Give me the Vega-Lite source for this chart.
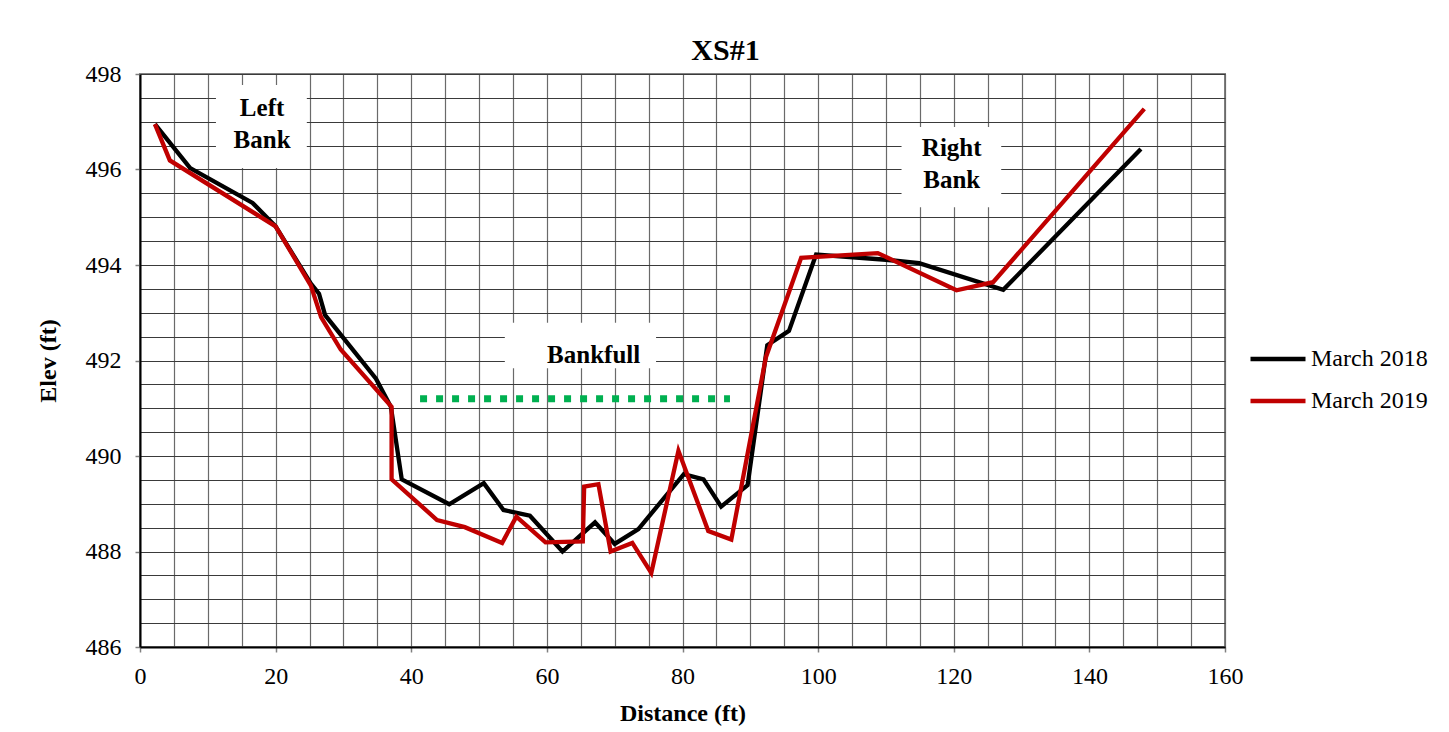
{
  "$schema": "https://vega.github.io/schema/vega-lite/v6.json",
  "width": 1085,
  "height": 573,
  "autosize": {"type": "none"},
  "padding": {"left": 140, "top": 74, "right": 224, "bottom": 85},
  "background": "white",
  "title": {"text": "XS#1", "font": "Liberation Serif", "fontSize": 30, "fontWeight": "bold", "color": "black", "frame": "group", "anchor": "middle", "dx": 43, "offset": -4},
  "config": {"view": {"stroke": "#808080", "strokeWidth": 2}, "font": "Liberation Serif"},
  "datasets": {
    "boxes": [
      {"x1": 11.2, "x2": 24.6, "y1": 496.03, "y2": 497.77},
      {"x1": 112.3, "x2": 127.0, "y1": 495.21, "y2": 496.89},
      {"x1": 53.8, "x2": 76.1, "y1": 491.84, "y2": 492.79}
    ],
    "bankfull": [
      {"x": 41.3, "y": 491.2},
      {"x": 87.0, "y": 491.2}
    ],
    "notes": [
      {"label": "Left", "x": 18.0, "y": 497.29},
      {"label": "Bank", "x": 18.0, "y": 496.62},
      {"label": "Right", "x": 119.7, "y": 496.45},
      {"label": "Bank", "x": 119.7, "y": 495.78},
      {"label": "Bankfull", "x": 66.9, "y": 492.12}
    ],
    "elev": [
      {"series": "March 2018", "i": 1, "x": 2.2, "y": 496.95},
      {"series": "March 2018", "i": 2, "x": 7.4, "y": 496.03},
      {"series": "March 2018", "i": 3, "x": 16.6, "y": 495.30},
      {"series": "March 2018", "i": 4, "x": 20.0, "y": 494.81},
      {"series": "March 2018", "i": 5, "x": 25.2, "y": 493.61},
      {"series": "March 2018", "i": 6, "x": 26.4, "y": 493.40},
      {"series": "March 2018", "i": 7, "x": 27.3, "y": 492.95},
      {"series": "March 2018", "i": 8, "x": 34.8, "y": 491.62},
      {"series": "March 2018", "i": 9, "x": 37.0, "y": 491.03},
      {"series": "March 2018", "i": 10, "x": 38.6, "y": 489.51},
      {"series": "March 2018", "i": 11, "x": 45.6, "y": 488.99},
      {"series": "March 2018", "i": 12, "x": 50.7, "y": 489.43},
      {"series": "March 2018", "i": 13, "x": 53.6, "y": 488.87},
      {"series": "March 2018", "i": 14, "x": 57.5, "y": 488.75},
      {"series": "March 2018", "i": 15, "x": 62.3, "y": 488.00},
      {"series": "March 2018", "i": 16, "x": 67.1, "y": 488.61},
      {"series": "March 2018", "i": 17, "x": 70.0, "y": 488.16},
      {"series": "March 2018", "i": 18, "x": 73.5, "y": 488.47},
      {"series": "March 2018", "i": 19, "x": 80.2, "y": 489.62},
      {"series": "March 2018", "i": 20, "x": 83.1, "y": 489.51},
      {"series": "March 2018", "i": 21, "x": 85.7, "y": 488.94},
      {"series": "March 2018", "i": 22, "x": 89.6, "y": 489.39},
      {"series": "March 2018", "i": 23, "x": 92.5, "y": 492.32},
      {"series": "March 2018", "i": 24, "x": 95.7, "y": 492.62},
      {"series": "March 2018", "i": 25, "x": 99.7, "y": 494.22},
      {"series": "March 2018", "i": 26, "x": 110.0, "y": 494.11},
      {"series": "March 2018", "i": 27, "x": 114.9, "y": 494.04},
      {"series": "March 2018", "i": 28, "x": 127.3, "y": 493.48},
      {"series": "March 2018", "i": 29, "x": 147.6, "y": 496.43},
      {"series": "March 2019", "i": 1, "x": 2.2, "y": 496.95},
      {"series": "March 2019", "i": 2, "x": 4.4, "y": 496.19},
      {"series": "March 2019", "i": 3, "x": 20.0, "y": 494.81},
      {"series": "March 2019", "i": 4, "x": 25.2, "y": 493.57},
      {"series": "March 2019", "i": 5, "x": 26.7, "y": 492.91},
      {"series": "March 2019", "i": 6, "x": 29.6, "y": 492.23},
      {"series": "March 2019", "i": 7, "x": 37.1, "y": 491.03},
      {"series": "March 2019", "i": 8, "x": 37.1, "y": 489.51},
      {"series": "March 2019", "i": 9, "x": 43.8, "y": 488.66},
      {"series": "March 2019", "i": 10, "x": 47.9, "y": 488.51},
      {"series": "March 2019", "i": 11, "x": 53.4, "y": 488.18},
      {"series": "March 2019", "i": 12, "x": 55.5, "y": 488.73},
      {"series": "March 2019", "i": 13, "x": 59.8, "y": 488.19},
      {"series": "March 2019", "i": 14, "x": 65.3, "y": 488.21},
      {"series": "March 2019", "i": 15, "x": 65.5, "y": 489.36},
      {"series": "March 2019", "i": 16, "x": 67.6, "y": 489.41},
      {"series": "March 2019", "i": 17, "x": 69.4, "y": 488.00},
      {"series": "March 2019", "i": 18, "x": 72.6, "y": 488.18},
      {"series": "March 2019", "i": 19, "x": 75.4, "y": 487.55},
      {"series": "March 2019", "i": 20, "x": 79.4, "y": 490.11},
      {"series": "March 2019", "i": 21, "x": 83.8, "y": 488.43},
      {"series": "March 2019", "i": 22, "x": 87.2, "y": 488.25},
      {"series": "March 2019", "i": 23, "x": 92.3, "y": 492.07},
      {"series": "March 2019", "i": 24, "x": 97.5, "y": 494.15},
      {"series": "March 2019", "i": 25, "x": 108.8, "y": 494.25},
      {"series": "March 2019", "i": 26, "x": 120.4, "y": 493.47},
      {"series": "March 2019", "i": 27, "x": 125.8, "y": 493.64},
      {"series": "March 2019", "i": 28, "x": 148.1, "y": 497.27}
    ]
  },
  "layer": [
    {
      "data": {"name": "boxes"},
      "mark": {"type": "rect", "fill": "white", "strokeWidth": 0},
      "encoding": {
        "x": {"field": "x1", "type": "quantitative",
          "scale": {"domain": [0, 160], "nice": false, "zero": false},
          "axis": {"orient": "bottom", "values": [0,5,10,15,20,25,30,35,40,45,50,55,60,65,70,75,80,85,90,95,100,105,110,115,120,125,130,135,140,145,150,155,160],
            "grid": true, "gridColor": "#6a6a6a", "gridWidth": 1.2, "labels": false, "ticks": false, "domain": false, "title": null}},
        "x2": {"field": "x2"},
        "y": {"field": "y1", "type": "quantitative",
          "scale": {"domain": [486, 498], "nice": false, "zero": false},
          "axis": {"orient": "left", "values": [486,486.5,487,487.5,488,488.5,489,489.5,490,490.5,491,491.5,492,492.5,493,493.5,494,494.5,495,495.5,496,496.5,497,497.5,498],
            "grid": true, "gridColor": "#3a3a3a", "gridWidth": 1.2, "labels": false, "ticks": false, "domain": false, "title": null}},
        "y2": {"field": "y2"}
      }
    },
    {
      "data": {"name": "bankfull"},
      "mark": {"type": "line", "color": "#00B050", "strokeWidth": 7, "strokeDash": [7, 9], "strokeCap": "butt"},
      "encoding": {
        "x": {"field": "x", "type": "quantitative", "axis": null},
        "y": {"field": "y", "type": "quantitative", "axis": null}
      }
    },
    {
      "data": {"name": "elev"},
      "mark": {"type": "line", "strokeWidth": 4.3, "strokeJoin": "miter"},
      "encoding": {
        "x": {"field": "x", "type": "quantitative",
          "axis": {"orient": "bottom", "values": [0,20,40,60,80,100,120,140,160], "grid": false,
            "title": "Distance (ft)", "titleFont": "Liberation Serif", "titleFontSize": 24, "titleFontWeight": "bold", "titleColor": "black", "titlePadding": 13,
            "labelFont": "Liberation Serif", "labelFontSize": 24, "labelColor": "black", "labelPadding": 12,
            "ticks": true, "tickSize": 5, "tickColor": "#808080", "tickWidth": 1.5,
            "domainColor": "black", "domainWidth": 2, "labelFlush": false}},
        "y": {"field": "y", "type": "quantitative",
          "axis": {"orient": "left", "values": [486,488,490,492,494,496,498], "grid": false,
            "title": "Elev (ft)", "titleFont": "Liberation Serif", "titleFontSize": 24, "titleFontWeight": "bold", "titleColor": "black", "titlePadding": 25,
            "labelFont": "Liberation Serif", "labelFontSize": 24, "labelColor": "black", "labelPadding": 14,
            "ticks": true, "tickSize": 5, "tickColor": "#808080", "tickWidth": 1.5,
            "domainColor": "black", "domainWidth": 2, "labelFlush": false}},
        "order": {"field": "i", "type": "quantitative"},
        "color": {"field": "series", "type": "nominal",
          "scale": {"domain": ["March 2018", "March 2019"], "range": ["#000000", "#C00000"]},
          "legend": {"orient": "none", "legendX": 1108, "legendY": 255, "title": null,
            "symbolType": "stroke", "symbolSize": 3025, "symbolStrokeWidth": 4.3,
            "labelFont": "Liberation Serif", "labelFontSize": 24, "labelColor": "black", "labelOffset": 3,
            "rowPadding": -14, "labelLimit": 300}}
      }
    },
    {
      "data": {"name": "notes"},
      "mark": {"type": "text", "font": "Liberation Serif", "fontSize": 25, "fontWeight": "bold", "color": "black", "align": "center", "baseline": "middle"},
      "encoding": {
        "x": {"field": "x", "type": "quantitative", "axis": null},
        "y": {"field": "y", "type": "quantitative", "axis": null},
        "text": {"field": "label"}
      }
    }
  ],
  "resolve": {"axis": {"x": "independent", "y": "independent"}}
}
